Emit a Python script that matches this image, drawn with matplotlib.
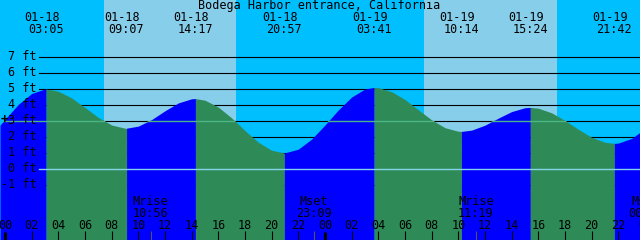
import matplotlib
matplotlib.use("Agg")
import matplotlib.pyplot as plt
import numpy as np
from matplotlib.transforms import blended_transform_factory

title = "Bodega Harbor entrance, California"

# high / low tides
tide_dates = ["01-18", "01-18", "01-18", "01-18", "01-19", "01-19", "01-19", "01-19"]
tide_times = ["03:05", "09:07", "14:17", "20:57", "03:41", "10:14", "15:24", "21:42"]

# sunrise / sunset (edges of the light day bands)
sun_dates = ["01-18", "01-18", "01-19", "01-19"]
sun_times = ["07:25", "17:20", "07:25", "17:24"]

# moon events along the bottom
moon_names = ["Mrise", "Mset", "Mrise", "Mset"]
moon_dates = ["01-18", "01-18", "01-19", "01-20"]
moon_times = ["10:56", "23:09", "11:19", "00:03"]

ft_levels = [-1, 0, 1, 2, 3, 4, 5, 6, 7]

# tide height (ft), hours after 01-18 00:00
curve_hours = [-0.375, 0, 1, 2, 3, 3.083, 4, 5, 6, 7, 8, 9, 9.117, 10, 11, 12, 13, 14,
               14.283, 15, 16, 17, 18, 19, 20, 20.95, 22, 23, 24, 25, 26, 27, 27.683,
               28, 29, 30, 31, 32, 33, 34, 34.233, 35, 36, 37, 38, 39, 39.4, 40, 41,
               42, 43, 44, 45, 45.7, 46, 47, 48]
curve_levels = [2.74, 3.11, 4.04, 4.72, 5.0, 5.0, 4.86, 4.44, 3.84, 3.22, 2.75, 2.55,
                2.55, 2.68, 3.09, 3.64, 4.13, 4.39, 4.4, 4.30, 3.87, 3.19, 2.40, 1.67,
                1.17, 1.0, 1.24, 1.87, 2.75, 3.69, 4.50, 5.00, 5.1, 5.08, 4.83, 4.34,
                3.70, 3.07, 2.58, 2.36, 2.35, 2.43, 2.74, 3.18, 3.59, 3.83, 3.85, 3.80,
                3.51, 3.03, 2.48, 1.98, 1.67, 1.6, 1.62, 1.91, 2.52]


def to_hours(d, t):
    h, m = t.split(":")
    return (int(d[3:]) - 18) * 24 + int(h) + int(m) / 60


NIGHT = "#00BFFF"
DAY = "#87CEEB"
RISE = "#0000FF"
FALL = "#2E8B57"
FONT = dict(family="DejaVu Sans Mono", size=8.5, color="black")

W, H = 640, 240
x0, x1 = -0.375, 47.625
y0, y1 = -4.4375, 10.5625


def fy(py):
    # pixel row -> axes fraction
    return 1 - py / H


fig = plt.figure(figsize=(6.4, 2.4), dpi=100, facecolor=NIGHT)
ax = fig.add_axes([0, 0, 1, 1])
ax.set_facecolor(NIGHT)
ax.set_xlim(x0, x1)
ax.set_ylim(y0, y1)
ax.set_xticks([])
ax.set_yticks([])
for s in ax.spines.values():
    s.set_visible(False)

xt = ax.get_xaxis_transform()
yt = blended_transform_factory(ax.transAxes, ax.transData)

# day bands
sun_h = [to_hours(d, t) for d, t in zip(sun_dates, sun_times)]
for a, b in zip(sun_h[::2], sun_h[1::2]):
    ax.axvspan(a, b, color=DAY, lw=0, zorder=0)

# grid
for lv in ft_levels:
    if lv != 0:
        ax.axhline(lv, xmin=39 / W, color="black", lw=0.8, zorder=1)

# tide fill, blue rising / green falling
th = np.array(curve_hours)
tl = np.array(curve_levels)
ext_h = [curve_hours[0]] + [to_hours(d, t) for d, t in zip(tide_dates, tide_times)] + [curve_hours[-1]]
for a, b in zip(ext_h[:-1], ext_h[1:]):
    m = (th >= a - 0.01) & (th <= b + 0.01)
    seg_t, seg_l = th[m], tl[m]
    col = RISE if seg_l[-1] > seg_l[0] else FALL
    ax.fill_between(seg_t, seg_l, y0, color=col, lw=0, zorder=2)

clip = ax.fill_between(th, tl, y0, color="none", lw=0)
mark = ax.axhline(3, color="#4cb585", lw=1.0, zorder=3)
mark.set_clip_path(clip.get_paths()[0], ax.transData)
ax.axhline(0, xmin=39 / W, color="#86d4ea", lw=1.0, zorder=3)

# y labels
for lv in ft_levels:
    ax.text(37 / W, lv, f"{lv} ft", transform=yt, ha="right", va="center", zorder=5, **FONT)
ax.text(4 / W, 3.1, "+", transform=yt, ha="center", va="center", zorder=5,
        family="DejaVu Sans Mono", size=9, weight="bold")

# title and tide event labels
ax.text(319 / W, fy(6), title, transform=ax.transAxes, ha="center", va="center", **FONT)
for d, t in zip(tide_dates, tide_times):
    h = to_hours(d, t)
    ax.text(h - 0.3, fy(17.5), d, transform=xt, ha="center", va="center", **FONT)
    ax.text(h, fy(29.5), t, transform=xt, ha="center", va="center", **FONT)

# hour ticks and labels
for hr in range(0, 50, 2):
    ax.text(hr, fy(225.5), f"{hr % 24:02d}", transform=xt, ha="center", va="center", zorder=5, **FONT)
    if hr % 24 == 0:
        ax.vlines(hr, 0, 8 / H, transform=xt, color="black", lw=2.2, zorder=5)
    else:
        ax.vlines(hr, 0, 9 / H, transform=xt, color="black", lw=0.8, zorder=5)

# moon events
for n, d, t in zip(moon_names, moon_dates, moon_times):
    h = to_hours(d, t)
    ax.vlines(h, 0, 9 / H, transform=xt, color="#555555", lw=0.8, zorder=5)
    ax.text(h, fy(201.5), n, transform=xt, ha="center", va="center", zorder=5, **FONT)
    ax.text(h, fy(213.5), t, transform=xt, ha="center", va="center", zorder=5, **FONT)

fig.savefig("out.png", dpi=100)
